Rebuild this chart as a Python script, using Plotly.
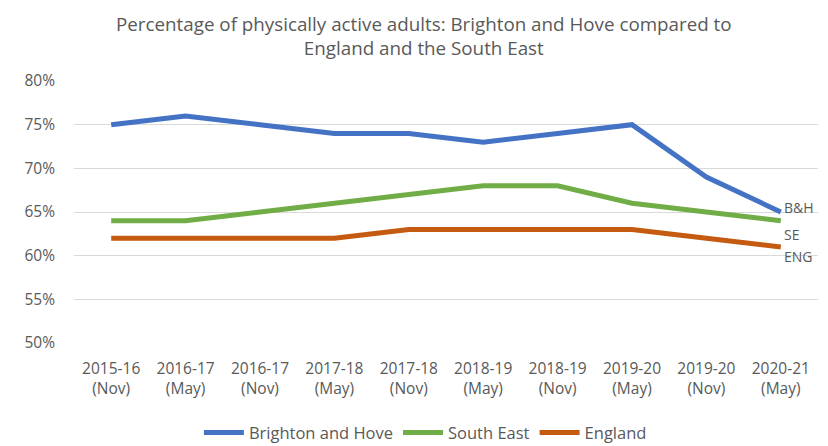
import plotly.graph_objects as go

periods = ["2015-16<br>(Nov)", "2016-17<br>(May)", "2016-17<br>(Nov)", "2017-18<br>(May)",
           "2017-18<br>(Nov)", "2018-19<br>(May)", "2018-19<br>(Nov)", "2019-20<br>(May)",
           "2019-20<br>(Nov)", "2020-21<br>(May)"]
brighton = [75, 76, 75, 74, 74, 73, 74, 75, 69, 65]
south_east = [64, 64, 65, 66, 67, 68, 68, 66, 65, 64]
england = [62, 62, 62, 62, 63, 63, 63, 63, 62, 61]
end_labels = ["B&H", "SE", "ENG"]

font_family = "Open Sans, Liberation Sans, sans-serif"
grey = "#595959"

fig = go.Figure()
series = [
    ("Brighton and Hove", brighton, "#4472C4"),
    ("South East", south_east, "#70AD47"),
    ("England", england, "#C55A11"),
]
for name, vals, colour in series:
    fig.add_trace(go.Scatter(
        x=periods, y=vals, name=name, mode="lines",
        line=dict(color=colour, width=5),
    ))

# end-of-line labels, nudged so they don't overlap the lines
label_y = [65.5, 62.4, 59.9]
for text, yv in zip(end_labels, label_y):
    fig.add_annotation(
        x=periods[-1], y=yv, text=text, showarrow=False,
        xanchor="left", xshift=1, font=dict(size=14, color=grey, family=font_family),
    )

# two-line title as an annotation so it sits where the original does
fig.add_annotation(
    text="Percentage of physically active adults: Brighton and Hove compared to<br>England and the South East",
    xref="paper", yref="paper", x=0.47, y=1.275, xanchor="center", yanchor="top",
    showarrow=False, font=dict(size=18.8, color=grey, family=font_family),
)

# page body has a default 8px margin, so the figure is sized a little smaller
fig.update_layout(
    width=820, height=438,
    plot_bgcolor="white", paper_bgcolor="white",
    font=dict(family=font_family, color=grey, size=15),
    margin=dict(l=66, r=10, t=73, b=103),
    showlegend=True,
    legend=dict(
        orientation="h", x=0.509, xanchor="center", xref="container",
        y=0.03, yanchor="middle", yref="container",
        font=dict(size=16.5, color=grey), itemwidth=40,
    ),
    xaxis=dict(showgrid=False, showline=False, ticks="", range=[-0.5, 9.5], automargin=False,
               tickfont=dict(size=15.5, color=grey), ticklabelstandoff=14),
    yaxis=dict(
        range=[50, 80], dtick=5, ticksuffix="%", gridcolor="#D9D9D9", gridwidth=1,
        zeroline=False, showline=False, tickfont=dict(size=15.5, color=grey),
        ticklabelstandoff=18, automargin=False,
    ),
)

fig.write_html("out.html")
